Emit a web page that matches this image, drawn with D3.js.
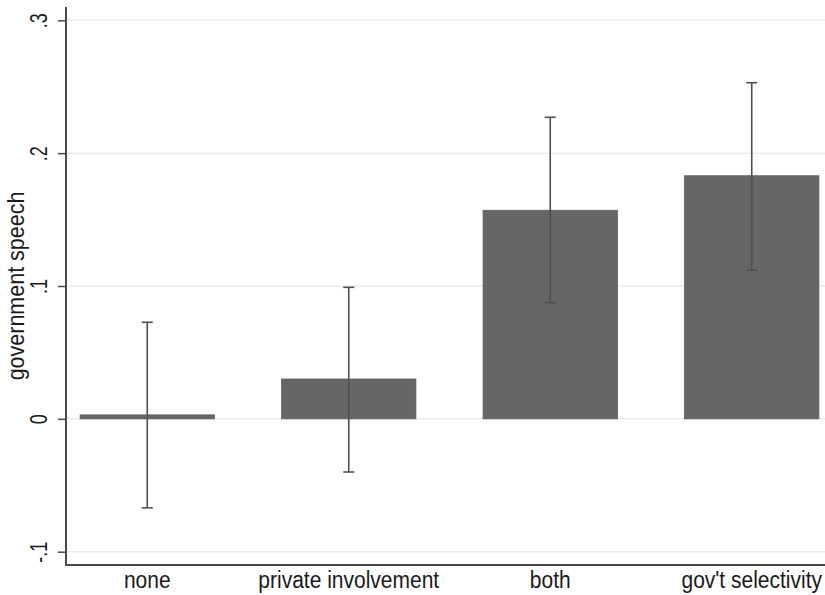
<!DOCTYPE html>
<html>
<head>
<meta charset="utf-8">
<script src="https://cdn.jsdelivr.net/npm/d3@7"></script>
<style>
  html, body { margin: 0; padding: 0; background: #fff; }
  svg { display: block; }
  text { font-family: "Liberation Sans", Arial, Helvetica, sans-serif; fill: #1a1a1a; }
</style>
</head>
<body>
<svg id="chart" width="825" height="595"></svg>
<script>
const categories = ["none", "private involvement", "both", "gov't selectivity"];
const means = [0.003, 0.030, 0.157, 0.183];
const ciLow = [-0.067, -0.040, 0.0875, 0.112];
const ciHigh = [0.0727, 0.099, 0.227, 0.253];
const yTicks = [-0.1, 0, 0.1, 0.2, 0.3];
const yTickLabels = ["-.1", "0", ".1", ".2", ".3"];
const yTitle = "government speech";

(function () {
const svg = d3.select("#chart");
const W = 825, H = 595;
const pLeft = 66, pRight = 833, pTop = 7, pBottom = 565;

const x = d3.scaleBand().domain(categories).range([pLeft, pRight])
  .paddingInner(1/3).paddingOuter(0.07);
const y = d3.scaleLinear().domain([-0.11, 0.31]).range([pBottom, pTop]);

// gridlines
svg.append("g").selectAll("line").data(yTicks).join("line")
  .attr("x1", pLeft).attr("x2", W)
  .attr("y1", d => y(d)).attr("y2", d => y(d))
  .attr("stroke", "#ebebeb").attr("stroke-width", 1.5);

const data = categories.map((c, i) => ({c, m: means[i], lo: ciLow[i], hi: ciHigh[i]}));

// bars
svg.append("g").selectAll("rect").data(data).join("rect")
  .attr("x", d => x(d.c)).attr("width", x.bandwidth())
  .attr("y", d => y(Math.max(0, d.m)))
  .attr("height", d => Math.max(Math.abs(y(0) - y(d.m)), 4))
  .attr("fill", "#666666")
  .attr("stroke", "#5e5e5e").attr("stroke-width", 0.8);

// error bars
const eb = svg.append("g").attr("stroke", "#4f4f4f").attr("stroke-width", 1.6);
data.forEach(d => {
  const cx = x(d.c) + x.bandwidth() / 2;
  eb.append("line").attr("x1", cx).attr("x2", cx).attr("y1", y(d.lo)).attr("y2", y(d.hi));
  eb.append("line").attr("x1", cx - 5.5).attr("x2", cx + 5.5).attr("y1", y(d.lo)).attr("y2", y(d.lo));
  eb.append("line").attr("x1", cx - 5.5).attr("x2", cx + 5.5).attr("y1", y(d.hi)).attr("y2", y(d.hi));
});

// y axis
const yAxis = d3.axisLeft(y).tickValues(yTicks).tickSize(8)
  .tickFormat((d, i) => yTickLabels[i]);
const gy = svg.append("g").attr("transform", `translate(${pLeft},0)`).call(yAxis);
gy.select(".domain").remove();
gy.selectAll(".tick line").attr("stroke", "#4a4a4a").attr("stroke-width", 1.5);
gy.selectAll(".tick text")
  .attr("x", null).attr("dy", null)
  .attr("transform", "translate(-19,0) rotate(-90) scale(0.9,1.15)")
  .attr("text-anchor", "middle")
  .style("font-size", "20px").style("fill", "#1a1a1a");

svg.append("line").attr("x1", pLeft).attr("x2", pLeft).attr("y1", pTop).attr("y2", pBottom + 1)
  .attr("stroke", "#4a4a4a").attr("stroke-width", 2);

// x axis
const xAxis = d3.axisBottom(x).tickSize(0);
const gx = svg.append("g").attr("transform", `translate(0,${pBottom})`).call(xAxis);
gx.select(".domain").remove();
gx.selectAll(".tick text").attr("y", null).attr("dy", null)
  .attr("transform", "translate(0,23) scale(1,1.1)")
  .style("font-size", "21px").style("fill", "#1a1a1a");
svg.append("line").attr("x1", pLeft - 1).attr("x2", W).attr("y1", pBottom).attr("y2", pBottom)
  .attr("stroke", "#4a4a4a").attr("stroke-width", 2);

// y title
svg.append("text")
  .attr("transform", `translate(24,${(pTop + pBottom) / 2}) rotate(-90) scale(1,1.08)`)
  .attr("text-anchor", "middle")
  .style("font-size", "21.5px")
  .text(yTitle);
})();
</script>
</body>
</html>
